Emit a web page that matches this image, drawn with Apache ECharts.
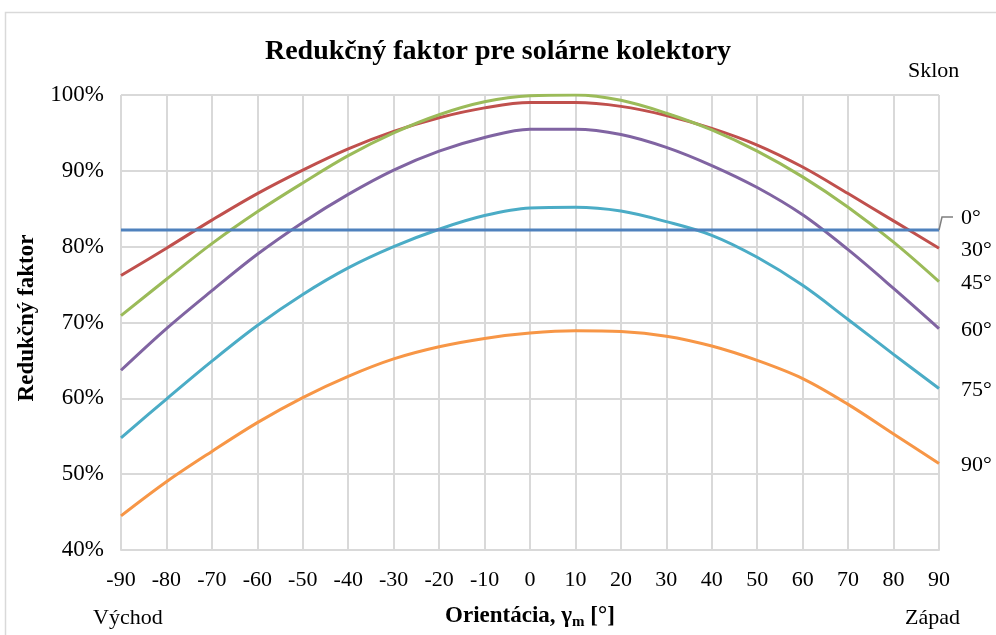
<!DOCTYPE html>
<html>
<head>
<meta charset="utf-8">
<script src="https://cdn.jsdelivr.net/npm/echarts@6/dist/echarts.min.js"></script>
<style>
  html, body { margin: 0; padding: 0; background: #fff; }
  #main { width: 996px; height: 635px; }
</style>
</head>
<body>
<div id="main"></div>
<script>
// orientation of the collector, degrees (east negative, west positive)
var orientation = [-90, -80, -70, -60, -50, -40, -30, -20, -10, 0, 10, 20, 30, 40, 50, 60, 70, 80, 90];
var yTicks = [40, 50, 60, 70, 80, 90, 100];

// reduction factor in %, one array per tilt
var sklon0  = [82.2, 82.2, 82.2, 82.2, 82.2, 82.2, 82.2, 82.2, 82.2, 82.2, 82.2, 82.2, 82.2, 82.2, 82.2, 82.2, 82.2, 82.2, 82.2];
var sklon30 = [76.2, 79.8, 83.5, 87.0, 90.1, 92.9, 95.2, 97.0, 98.3, 99.0, 99.0, 98.5, 97.3, 95.6, 93.4, 90.5, 87.0, 83.4, 79.8];
var sklon45 = [70.9, 75.7, 80.4, 84.6, 88.4, 92.0, 95.0, 97.4, 99.1, 99.9, 100.0, 99.3, 97.6, 95.4, 92.6, 89.2, 85.2, 80.6, 75.4];
var sklon60 = [63.7, 69.2, 74.2, 79.0, 83.2, 86.9, 90.1, 92.6, 94.4, 95.5, 95.5, 94.8, 93.1, 90.7, 87.8, 84.2, 79.6, 74.5, 69.2];
var sklon75 = [54.8, 59.9, 64.9, 69.6, 73.7, 77.2, 80.0, 82.3, 84.1, 85.1, 85.2, 84.7, 83.3, 81.5, 78.6, 74.9, 70.4, 65.8, 61.3];
var sklon90 = [44.5, 49.0, 53.0, 56.8, 60.1, 62.9, 65.2, 66.8, 67.9, 68.6, 68.9, 68.8, 68.2, 66.9, 65.0, 62.6, 59.2, 55.3, 51.4];

var names  = ['0°', '30°', '45°', '60°', '75°', '90°'];
var values = [sklon0, sklon30, sklon45, sklon60, sklon75, sklon90];
var colors = ['#4f81bd', '#c0504d', '#9bbb59', '#8064a2', '#4bacc6', '#f79646'];

var serif = "'Liberation Serif', 'Times New Roman', serif";

var myChart = echarts.init(document.getElementById('main'));

function pairs(arr) {
    return arr.map(function (v, i) { return [orientation[i], v]; });
}

var series = names.map(function (n, i) {
    return {
        name: n,
        type: 'line',
        data: pairs(values[i]),
        smooth: 0.35,
        showSymbol: false,
        z: i === 0 ? 3 : 2,
        lineStyle: { color: colors[i], width: 3 },
        itemStyle: { color: colors[i] },
        endLabel: {
            show: true,
            formatter: n,
            distance: 22,
            offset: i === 0 ? [0, -12] : [0, 2],
            color: '#000',
            fontFamily: serif,
            fontSize: 22
        }
    };
});

var border = { type: 'rect', shape: { x: 5.5, y: 12.5, width: 1000, height: 640 },
               style: { fill: 'none', stroke: '#d9d9d9', lineWidth: 1.5 }, silent: true };

var option = {
    animation: false,
    backgroundColor: '#fff',
    title: [
        { text: 'Redukčný faktor pre solárne kolektory', left: 'center', top: 33,
          textStyle: { fontFamily: serif, fontWeight: 'bold', fontSize: 28, color: '#000' } },
        { text: 'Sklon', left: 903, top: 55,
          textStyle: { fontFamily: serif, fontWeight: 'normal', fontSize: 22, color: '#000' } },
        { text: 'Východ', left: 88, top: 602,
          textStyle: { fontFamily: serif, fontWeight: 'normal', fontSize: 22, color: '#000' } },
        { text: 'Západ', left: 900, top: 602,
          textStyle: { fontFamily: serif, fontWeight: 'normal', fontSize: 22, color: '#000' } }
    ],
    grid: { left: 121, right: 57, top: 95, bottom: 82 },
    xAxis: {
        type: 'value',
        min: -90, max: 90, interval: 10,
        axisLine: { show: true, lineStyle: { color: '#d9d9d9', width: 2 } },
        axisTick: { show: false },
        splitLine: { show: true, lineStyle: { color: '#d9d9d9', width: 2 } },
        axisLabel: { margin: 19, color: '#000', fontFamily: serif, fontSize: 22 },
        name: '{b|Orientácia, γ}{s|m}{b| [°]}',
        nameLocation: 'middle',
        nameGap: 52,
        nameTextStyle: {
            rich: {
                b: { fontFamily: serif, fontWeight: 'bold', fontSize: 23, color: '#000', lineHeight: 28 },
                s: { fontFamily: serif, fontWeight: 'bold', fontSize: 15, color: '#000', lineHeight: 28, padding: [13, 0, 0, 0] }
            }
        }
    },
    yAxis: {
        type: 'value',
        min: yTicks[0], max: yTicks[yTicks.length - 1], interval: 10,
        axisLine: { show: true, lineStyle: { color: '#d9d9d9', width: 2 } },
        axisTick: { show: false },
        splitLine: { show: true, lineStyle: { color: '#d9d9d9', width: 2 } },
        axisLabel: { margin: 17, color: '#000', fontFamily: serif, fontSize: 23, formatter: '{value}%' }
    },
    series: series,
    graphic: [border]
};

myChart.setOption(option);

// y axis title and the leader line of the 0° label
var end = myChart.convertToPixel({ gridIndex: 0 }, [orientation[orientation.length - 1], sklon0[sklon0.length - 1]]);
myChart.setOption({
    graphic: [
        border,
        { type: 'text', x: 27, y: 318, rotation: Math.PI / 2, silent: true,
          style: { text: 'Redukčný faktor', fontFamily: serif, fontWeight: 'bold', fontSize: 23,
                   fill: '#000', align: 'center', verticalAlign: 'middle' } },
        { type: 'polyline', shape: { points: [[end[0], end[1]], [end[0] + 3, end[1] - 13], [end[0] + 14, end[1] - 13]] },
          style: { stroke: '#7f7f7f', lineWidth: 1.5, fill: 'none' }, silent: true, z: 10 }
    ]
});
</script>
</body>
</html>
